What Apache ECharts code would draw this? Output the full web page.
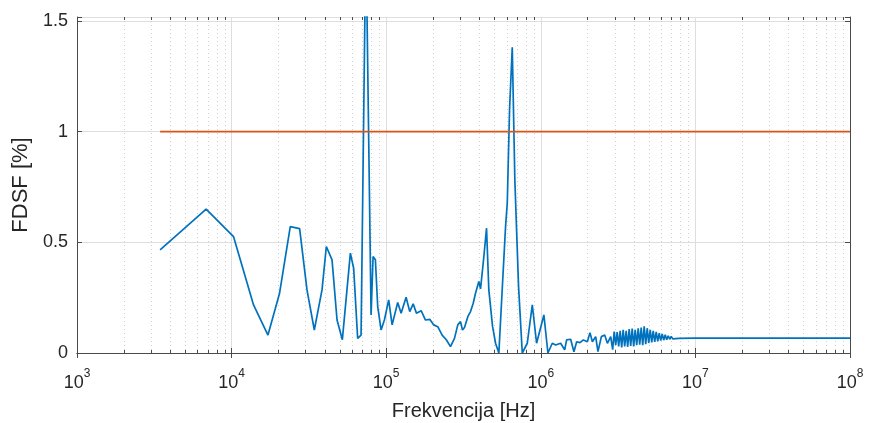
<!DOCTYPE html>
<html>
<head>
<meta charset="utf-8">
<script src="https://cdn.jsdelivr.net/npm/echarts@6/dist/echarts.min.js"></script>
<style>
html,body{margin:0;padding:0;background:#fff;}
#chart{width:869px;height:423px;}
</style>
</head>
<body>
<div id="chart"></div>
<script>
// Frequency (Hz) and FDSF (%) values
const freqHz = [
  3448, 6846, 10287, 13864, 17187, 20430, 23960, 27540, 30740, 34277,
  38440, 41000, 44630, 48090, 52040, 58640, 61590, 65380, 68780, 70150,
  73900, 76130, 79840, 82270, 85130, 88110, 92680, 97340, 103800, 109200,
  118700, 124900, 134500, 142000, 149400, 156900, 168300, 179500, 191300, 203000,
  215500, 230100, 245400, 260500, 276500, 290400, 302500, 311500, 321000, 337200,
  351100, 365500, 378200, 397300, 407500, 426100, 445700, 461200, 487400, 509700,
  535400, 565600, 591600, 606800, 628000, 653700, 679500, 718100, 758900, 817700,
  881000, 939200, 1047000, 1112000, 1187000, 1247000, 1344000, 1427000, 1469000, 1560000,
  1638000, 1706000, 1792000, 1885000, 2001000, 2080000, 2156000, 2264000, 2343000, 2465000,
  2590000, 2696000, 2832000,
  2917000, 2983000, 3050000, 3119000, 3190000, 3262000, 3336000, 3411000, 3488000, 3567000,
  3648000, 3730000, 3815000, 3901000, 3989000, 4079000, 4172000, 4266000, 4362000, 4461000,
  4562000, 4665000, 4771000, 4879000, 4989000, 5102000, 5217000, 5335000, 5456000, 5579000,
  5706000, 5835000, 5967000, 6101000, 6239000, 6380000, 6525000, 6672000, 6823000, 6977000,
  7135000, 7297000, 7462000, 7631000, 7803000, 7980000,
  10000000, 20000000, 50000000, 100000000
];
const fdsf = [
  0.466, 0.650, 0.526, 0.217, 0.081, 0.270, 0.571, 0.562, 0.285, 0.104,
  0.285, 0.481, 0.421, 0.149, 0.060, 0.451, 0.383, 0.066, 0.081, 0.085,
  1.900, 1.900, 0.172, 0.436, 0.421, 0.210, 0.104, 0.149, 0.240, 0.127,
  0.228, 0.180, 0.252, 0.187, 0.222, 0.180, 0.191, 0.149, 0.152, 0.127,
  0.119, 0.081, 0.059, 0.029, 0.066, 0.127, 0.142, 0.104, 0.115, 0.164,
  0.187, 0.225, 0.270, 0.323, 0.290, 0.420, 0.564, 0.285, 0.120, 0.044,
  0.000, 0.315, 0.571, 0.677, 1.100, 1.381, 0.780, 0.300, 0.000, 0.044,
  0.217, 0.044, 0.172, 0.000, 0.044, 0.036, 0.044, 0.014, 0.059, 0.062,
  0.006, 0.051, 0.047, 0.059, 0.051, 0.092, 0.051, 0.074, 0.006, 0.074,
  0.081, 0.044, 0.074,
  0.015, 0.097, 0.035, 0.095, 0.030, 0.100, 0.025, 0.105, 0.030, 0.100,
  0.028, 0.108, 0.032, 0.110, 0.030, 0.105, 0.035, 0.112, 0.038, 0.115,
  0.035, 0.120, 0.040, 0.112, 0.045, 0.105, 0.048, 0.100, 0.050, 0.095,
  0.053, 0.090, 0.056, 0.086, 0.058, 0.082, 0.060, 0.078, 0.062, 0.075,
  0.064, 0.072, 0.065, 0.070, 0.066, 0.068,
  0.067, 0.067, 0.067, 0.067
];
// Limit line
const limitFreq = [3448, 100000000];
const limitValue = [1, 1];
// Axis ticks
const yTicks = [0, 0.5, 1, 1.5];
const minorFreqTicks = [
  2e3,3e3,4e3,5e3,6e3,7e3,8e3,9e3,
  2e4,3e4,4e4,5e4,6e4,7e4,8e4,9e4,
  2e5,3e5,4e5,5e5,6e5,7e5,8e5,9e5,
  2e6,3e6,4e6,5e6,6e6,7e6,8e6,9e6,
  2e7,3e7,4e7,5e7,6e7,7e7,8e7,9e7
];

const FONT = '"Liberation Sans", Arial, Helvetica, sans-serif';
const TXT = '#262626';
const AX = '#4a4a4a';

const mainData = freqHz.map((f, i) => [f, fdsf[i]]);
const limitData = limitFreq.map((f, i) => [f, limitValue[i]]);
const minorData = minorFreqTicks.map(f => [f, 0]);

const chart = echarts.init(document.getElementById('chart'), null, {renderer: 'canvas'});
chart.setOption({
  animation: false,
  backgroundColor: '#ffffff',
  grid: {left: 77, right: 19, top: 17, bottom: 70, containLabel: false, outerBoundsMode: 'none'},
  xAxis: [{
    type: 'log', logBase: 10, min: 1e3, max: 1e8,
    name: 'Frekvencija [Hz]', nameLocation: 'middle', nameGap: 48,
    nameTextStyle: {fontFamily: FONT, fontSize: 20, color: TXT},
    axisLine: {show: true, lineStyle: {color: AX, width: 1}},
    axisTick: {show: true, inside: true, length: 5, lineStyle: {color: AX}},
    axisLabel: {
      margin: 15,
      formatter: v => '{b|10}{s|' + Math.round(Math.log10(v)) + '}',
      rich: {
        b: {fontFamily: FONT, fontSize: 18, color: TXT, lineHeight: 24, verticalAlign: 'bottom'},
        s: {fontFamily: FONT, fontSize: 12, color: TXT, lineHeight: 24, verticalAlign: 'top'}
      }
    },
    splitLine: {show: true, lineStyle: {color: '#dedede', width: 1}},
    minorTick: {show: false}
  }, {
    type: 'log', logBase: 10, min: 1e3, max: 1e8, position: 'top',
    axisLine: {show: true, lineStyle: {color: AX, width: 1}},
    axisTick: {show: true, inside: true, length: 5, lineStyle: {color: AX}},
    axisLabel: {show: false},
    splitLine: {show: false}
  }],
  yAxis: [{
    type: 'value', min: 0, max: 1.518, interval: 0.5,
    name: 'FDSF [%]', nameLocation: 'middle', nameGap: 43,
    nameTextStyle: {fontFamily: FONT, fontSize: 22, color: TXT},
    axisLine: {show: true, lineStyle: {color: AX, width: 1}},
    axisTick: {show: true, inside: true, length: 5, lineStyle: {color: AX}},
    axisLabel: {
      margin: 9, fontFamily: FONT, fontSize: 18, color: TXT,
      formatter: v => yTicks.some(t => Math.abs(t - v) < 1e-9) ? String(v) : ''
    },
    splitLine: {show: true, lineStyle: {color: '#dedede', width: 1}}
  }, {
    type: 'value', min: 0, max: 1.518, interval: 0.5, position: 'right',
    axisLine: {show: true, lineStyle: {color: AX, width: 1}},
    axisTick: {show: true, inside: true, length: 5, lineStyle: {color: AX}},
    axisLabel: {show: false},
    splitLine: {show: false}
  }],
  series: [{
    type: 'custom',
    xAxisIndex: 0, yAxisIndex: 0,
    z: 1,
    silent: true,
    data: minorData,
    renderItem: function (params, api) {
      const cs = params.coordSys;
      const x = Math.round(api.coord([api.value(0), 0])[0]) + 0.5;
      const top = cs.y, bot = cs.y + cs.height;
      return {
        type: 'group',
        children: [
          {type: 'line', shape: {x1: x, y1: top, x2: x, y2: bot},
           style: {stroke: '#cfcfcf', lineWidth: 1, lineDash: [1, 3]}},
          {type: 'line', shape: {x1: x, y1: bot, x2: x, y2: bot - 3},
           style: {stroke: AX, lineWidth: 1}},
          {type: 'line', shape: {x1: x, y1: top, x2: x, y2: top + 3},
           style: {stroke: AX, lineWidth: 1}}
        ]
      };
    }
  }, {
    type: 'line', name: 'FDSF',
    xAxisIndex: 0, yAxisIndex: 0,
    z: 3,
    data: mainData,
    showSymbol: false, symbol: 'none',
    clip: true,
    lineStyle: {color: '#0072BD', width: 1.7},
    emphasis: {disabled: true}
  }, {
    type: 'line', name: 'Limit',
    xAxisIndex: 0, yAxisIndex: 0,
    z: 4,
    data: limitData,
    showSymbol: false, symbol: 'none',
    lineStyle: {color: '#D95319', width: 1.7},
    emphasis: {disabled: true}
  }]
});
</script>
</body>
</html>
